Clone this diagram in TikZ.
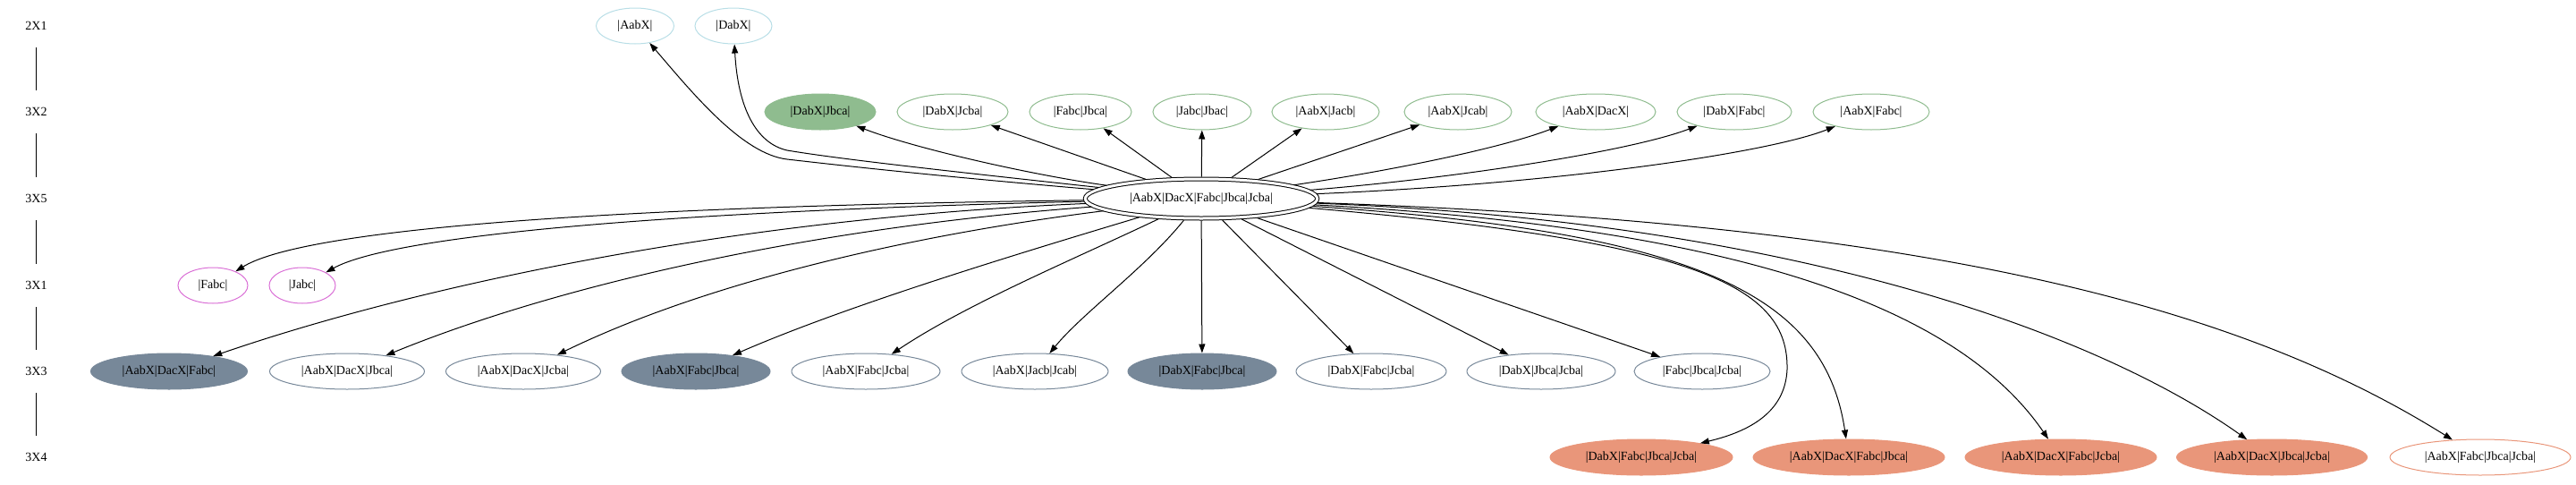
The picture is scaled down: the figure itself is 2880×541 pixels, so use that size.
\documentclass[tikz,border=0pt]{standalone}
\usepackage{fontspec}
\setmainfont{Liberation Serif}
\usetikzlibrary{shapes.geometric,arrows.meta}
\definecolor{cblue}{HTML}{B8DEE6}
\definecolor{cgreen}{HTML}{8FBC8F}
\definecolor{corchid}{HTML}{DA70D6}
\definecolor{cslate}{HTML}{778899}
\definecolor{csalmon}{HTML}{E9967A}
\begin{document}
\begin{tikzpicture}[x=1pt,y=-1pt,
  every node/.style={font=\fontsize{14}{16}\selectfont, inner sep=0pt},
  gv/.style={ellipse, draw, line width=1pt, minimum height=40pt, inner sep=0pt},
  nblue/.style={gv, draw=cblue},
  ngreen/.style={gv, draw=cgreen},
  ngreenf/.style={gv, draw=cgreen, fill=cgreen},
  norchid/.style={gv, draw=corchid},
  nslate/.style={gv, draw=cslate},
  nslatef/.style={gv, draw=cslate, fill=cslate},
  nsalmon/.style={gv, draw=csalmon},
  nsalmonf/.style={gv, draw=csalmon, fill=csalmon},
  conn/.style={-{Triangle[length=10pt,width=7pt]}, line width=1pt},
  ranklbl/.style={minimum height=48pt, minimum width=30pt},
  rankline/.style={line width=1pt}
]
\useasboundingbox (0,0) rectangle (2880,541);
% rank labels
\node[ranklbl] (r1) at (40.5,29) {2X1};
\node[ranklbl] (r2) at (40.5,125) {3X2};
\node[ranklbl] (r3) at (40.5,222) {3X5};
\node[ranklbl] (r4) at (40.5,319) {3X1};
\node[ranklbl] (r5) at (40.5,415) {3X3};
\node[ranklbl] (r6) at (40.5,511) {3X4};
\draw[rankline] (r1) -- (r2);
\draw[rankline] (r2) -- (r3);
\draw[rankline] (r3) -- (r4);
\draw[rankline] (r4) -- (r5);
\draw[rankline] (r5) -- (r6);
% central node
\node[ellipse, draw, double, double distance=3pt, line width=1pt, minimum width=259.4pt, minimum height=44pt, outer sep=2.5pt] (c) at (1343,222) {|AabX|DacX|Fabc|Jbca|Jcba|};
% 2X1
\node[nblue, minimum width=87pt] (a1) at (710,29) {|AabX|};
\node[nblue, minimum width=86pt] (a2) at (820,29) {|DabX|};
% 3X2
\node[ngreenf, minimum width=124pt] (b1) at (917,125) {|DabX|Jbca|};
\node[ngreen, minimum width=124pt] (b2) at (1065,125) {|DabX|Jcba|};
\node[ngreen, minimum width=114pt] (b3) at (1208,125) {|Fabc|Jbca|};
\node[ngreen, minimum width=110pt] (b4) at (1344,125) {|Jabc|Jbac|};
\node[ngreen, minimum width=120pt] (b5) at (1482,125) {|AabX|Jacb|};
\node[ngreen, minimum width=120pt] (b6) at (1630,125) {|AabX|Jcab|};
\node[ngreen, minimum width=134pt] (b7) at (1784,125) {|AabX|DacX|};
\node[ngreen, minimum width=128pt] (b8) at (1939,125) {|DabX|Fabc|};
\node[ngreen, minimum width=130pt] (b9) at (2092,125) {|AabX|Fabc|};
% 3X1
\node[norchid, minimum width=78pt] (d1) at (238,319) {|Fabc|};
\node[norchid, minimum width=74pt] (d2) at (338,319) {|Jabc|};
% 3X3
\node[nslatef, minimum width=175pt] (e1) at (189,415) {|AabX|DacX|Fabc|};
\node[nslate, minimum width=173pt] (e2) at (388,415) {|AabX|DacX|Jbca|};
\node[nslate, minimum width=173pt] (e3) at (585,415) {|AabX|DacX|Jcba|};
\node[nslatef, minimum width=166pt] (e4) at (778,415) {|AabX|Fabc|Jbca|};
\node[nslate, minimum width=166pt] (e5) at (968,415) {|AabX|Fabc|Jcba|};
\node[nslate, minimum width=164pt] (e6) at (1157,415) {|AabX|Jacb|Jcab|};
\node[nslatef, minimum width=166pt] (e7) at (1344,415) {|DabX|Fabc|Jbca|};
\node[nslate, minimum width=168pt] (e8) at (1533,415) {|DabX|Fabc|Jcba|};
\node[nslate, minimum width=166pt] (e9) at (1723,415) {|DabX|Jbca|Jcba|};
\node[nslate, minimum width=152pt] (e10) at (1903,415) {|Fabc|Jbca|Jcba|};
% 3X4
\node[nsalmonf, minimum width=204pt] (f1) at (1835,511) {|DabX|Fabc|Jbca|Jcba|};
\node[nsalmonf, minimum width=214pt] (f2) at (2067,511) {|AabX|DacX|Fabc|Jbca|};
\node[nsalmonf, minimum width=214pt] (f3) at (2304,511) {|AabX|DacX|Fabc|Jcba|};
\node[nsalmonf, minimum width=213pt] (f4) at (2540,511) {|AabX|DacX|Jbca|Jcba|};
\node[nsalmon, minimum width=202pt] (f5) at (2773,511) {|AabX|Fabc|Jbca|Jcba|};
% edges up to 2X1
\draw[conn] (c) .. controls (1050,197) and (950,186) .. (880,178) .. controls (830,172) and (775,105) .. (a1);
\draw[conn] (c) .. controls (1050,190) and (940,178) .. (880,168) .. controls (845,160) and (825,120) .. (a2);
% edges up to 3X2
\draw[conn] (c) .. controls (1150,195) and (1020,165) .. (b1);
\draw[conn] (c) -- (b2);
\draw[conn] (c) -- (b3);
\draw[conn] (c) -- (b4);
\draw[conn] (c) -- (b5);
\draw[conn] (c) -- (b6);
\draw[conn] (c) .. controls (1560,190) and (1680,165) .. (b7);
\draw[conn] (c) .. controls (1620,200) and (1820,170) .. (b8);
\draw[conn] (c) .. controls (1750,205) and (1980,170) .. (b9);
% edges down to 3X1
\draw[conn] (c) .. controls (600,232) and (330,262) .. (d1);
\draw[conn] (c) .. controls (680,238) and (430,268) .. (d2);
% edges down to 3X3
\draw[conn] (c) .. controls (800,245) and (450,325) .. (e1);
\draw[conn] (c) .. controls (900,255) and (620,320) .. (e2);
\draw[conn] (c) .. controls (1000,265) and (780,320) .. (e3);
\draw[conn] (c) .. controls (1150,280) and (950,340) .. (e4);
\draw[conn] (c) .. controls (1200,290) and (1080,340) .. (e5);
\draw[conn] (c) .. controls (1280,300) and (1210,350) .. (e6);
\draw[conn] (c) -- (e7);
\draw[conn] (c) -- (e8);
\draw[conn] (c) -- (e9);
\draw[conn] (c) -- (e10);
% edges down to 3X4
\draw[conn] (c) .. controls (1900,270) and (2000,320) .. (1998,413) .. controls (1996,455) and (1965,480) .. (f1);
\draw[conn] (c) .. controls (1900,260) and (2040,330) .. (f2);
\draw[conn] (c) .. controls (1950,255) and (2190,345) .. (f3);
\draw[conn] (c) .. controls (2050,250) and (2370,390) .. (f4);
\draw[conn] (c) .. controls (2150,250) and (2500,340) .. (f5);
\end{tikzpicture}
\end{document}
